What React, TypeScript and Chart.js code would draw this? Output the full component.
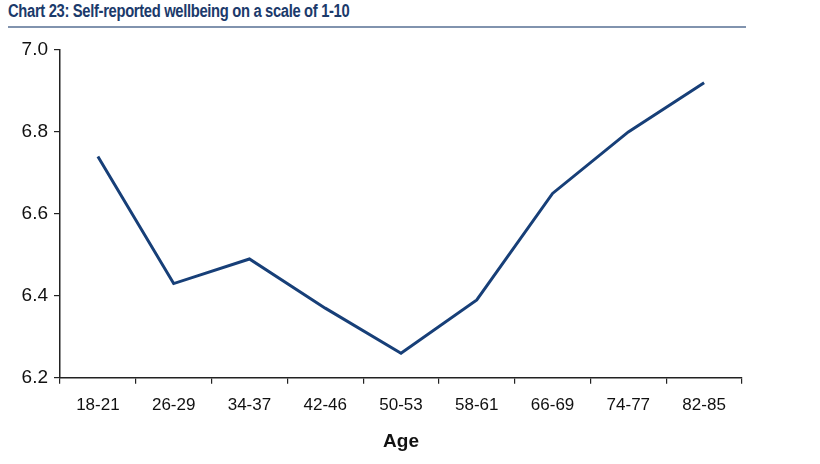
import React, { useEffect, useRef } from "react";
import { Chart, registerables } from "chart.js";

Chart.register(...registerables);

const ageGroups = ["18-21", "26-29", "34-37", "42-46", "50-53", "58-61", "66-69", "74-77", "82-85"];
const wellbeing = [6.74, 6.43, 6.49, 6.37, 6.26, 6.39, 6.65, 6.80, 6.92];
const yMin = 6.2;
const yMax = 7.0;
const yStep = 0.2;
const titleText = "Chart 23: Self-reported wellbeing on a scale of 1-10";
const xTitle = "Age";

export default function App() {
  const ref = useRef<HTMLCanvasElement | null>(null);

  useEffect(() => {
    document.body.style.margin = "0";
    const ctx = ref.current!;
    const chart = new Chart(ctx, {
      type: "line",
      data: {
        labels: ageGroups,
        datasets: [
          {
            data: wellbeing,
            borderColor: "#173F78",
            borderWidth: 3,
            pointRadius: 0,
            tension: 0,
            fill: false,
          },
        ],
      },
      options: {
        responsive: false,
        animation: false,
        layout: { padding: { left: 0, right: 78, top: 50, bottom: 11 } },
        plugins: { legend: { display: false }, tooltip: { enabled: false } },
        scales: {
          x: {
            offset: true,
            grid: {
              offset: true,
              drawOnChartArea: false,
              drawTicks: true,
              tickLength: 6,
              color: "#222",
              lineWidth: 1.2,
            },
            border: { display: true, color: "#222", width: 1.5 },
            ticks: {
              color: "#111",
              padding: 11,
              font: { family: "'Liberation Sans', Arial, sans-serif", size: 17 },
              maxRotation: 0,
            },
            title: {
              display: true,
              text: xTitle,
              color: "#111",
              font: { family: "'Liberation Sans', Arial, sans-serif", size: 19, weight: "bold" },
              padding: { top: 4, bottom: 0 },
            },
          },
          y: {
            min: yMin,
            max: yMax,
            afterFit: (s: any) => {
              s.width = 60;
            },
            grid: {
              drawOnChartArea: false,
              drawTicks: true,
              tickLength: 6,
              color: "#222",
              lineWidth: 1.2,
            },
            border: { display: true, color: "#222", width: 1.5 },
            ticks: {
              stepSize: yStep,
              color: "#111",
              padding: 6,
              font: { family: "'Liberation Sans', Arial, sans-serif", size: 19 },
              callback: (v: any) => Number(v).toFixed(1),
            },
          },
        },
      },
    });
    return () => chart.destroy();
  }, []);

  return (
    <div style={{ position: "relative", width: 820, height: 464, background: "#fff" }}>
      <div
        style={{
          position: "absolute",
          left: 8,
          top: 1,
          fontFamily: "'Liberation Sans', Arial, sans-serif",
          fontWeight: "bold",
          fontSize: 18,
          color: "#1B3A6B",
          letterSpacing: -0.4,
          whiteSpace: "nowrap",
          transform: "scaleX(0.82)",
          transformOrigin: "left top",
        }}
      >
        {titleText}
      </div>
      <div
        style={{
          position: "absolute",
          left: 8,
          top: 26,
          width: 738,
          height: 0,
          borderTop: "2px solid #8193AE",
        }}
      />
      <canvas ref={ref} width={820} height={464} style={{ position: "absolute", left: 0, top: 0 }} />
    </div>
  );
}
